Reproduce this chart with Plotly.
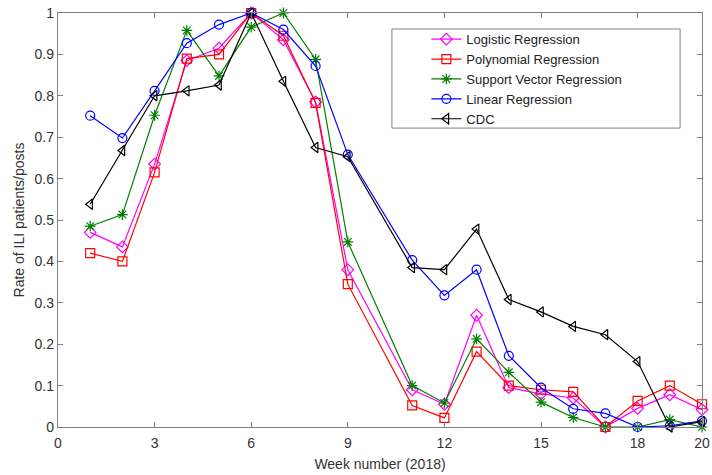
import plotly.graph_objects as go

weeks = [1, 2, 3, 4, 5, 6, 7, 8, 9, 11, 12, 13, 14, 15, 16, 17, 18, 19, 20]

logistic = [0.47, 0.435, 0.635, 0.885, 0.915, 1.0, 0.935, 0.785, 0.38, 0.09, 0.055,
            0.27, 0.095, 0.08, 0.07, 0.0, 0.045, 0.078, 0.042]
polynomial = [0.42, 0.40, 0.615, 0.89, 0.90, 1.0, 0.945, 0.783, 0.345, 0.052, 0.022,
              0.182, 0.10, 0.09, 0.085, 0.0, 0.063, 0.10, 0.055]
svr = [0.485, 0.513, 0.753, 0.958, 0.848, 0.966, 1.0, 0.888, 0.447, 0.10, 0.058,
       0.213, 0.132, 0.06, 0.023, 0.0, 0.0, 0.018, 0.0]
linear = [0.752, 0.698, 0.812, 0.927, 0.972, 1.0, 0.96, 0.872, 0.658, 0.403, 0.318,
          0.38, 0.172, 0.095, 0.044, 0.033, 0.0, 0.003, 0.015]
cdc = [0.538, 0.668, 0.80, 0.812, 0.826, 1.0, 0.835, 0.675, 0.653, 0.385, 0.38,
       0.478, 0.308, 0.278, 0.243, 0.223, 0.158, 0.0, 0.013]

series = [
    ("Logistic Regression", logistic, "#ff00ff", "diamond-open"),
    ("Polynomial Regression", polynomial, "#ff0000", "square-open"),
    ("Support Vector Regression", svr, "#007f00", "asterisk-open"),
    ("Linear Regression", linear, "#0000ff", "circle-open"),
    ("CDC", cdc, "#000000", "triangle-left-open"),
]

x_ticks = [0, 3, 6, 9, 12, 15, 18, 20]
y_ticks = [0, 0.1, 0.2, 0.3, 0.4, 0.5, 0.6, 0.7, 0.8, 0.9, 1]

fig = go.Figure()
for name, vals, color, sym in series:
    fig.add_trace(go.Scatter(
        x=weeks, y=vals, name=name, mode="lines+markers",
        line=dict(color=color, width=1.2),
        marker=dict(symbol=sym, size=9, color=color, line=dict(color=color, width=1.2)),
        cliponaxis=False,
    ))

axis_common = dict(
    showline=True, linecolor="#808080", linewidth=1.3, mirror="ticks",
    ticks="inside", ticklen=5, tickcolor="#808080", tickwidth=1,
    showgrid=False, zeroline=False, automargin=False,
    ticklabeloverflow="allow",
    tickfont=dict(family="Liberation Sans, Arial, sans-serif", size=14, color="#333333"),
)

# legend frame (wider than plotly's own legend box, like the original)
fig.add_shape(type="rect", xref="paper", yref="paper",
              x0=0.5185, x1=0.966, y0=0.722, y1=0.9614,
              line=dict(color="#808080", width=1), fillcolor="white", layer="above")

fig.update_layout(
    width=712, height=475,
    margin=dict(l=58, r=10, t=13, b=48),
    paper_bgcolor="white", plot_bgcolor="white",
    font=dict(family="Liberation Sans, Arial, sans-serif", size=13, color="#333333"),
    xaxis=dict(range=[0, 20], tickvals=x_ticks, ticktext=[str(v) for v in x_ticks],
               ticklabelstandoff=3,
               title=dict(text="Week number (2018)", standoff=9,
                          font=dict(size=14, color="#333333")),
               **axis_common),
    yaxis=dict(range=[0, 1], tickvals=y_ticks,
               ticktext=["0", "0.1", "0.2", "0.3", "0.4", "0.5", "0.6", "0.7", "0.8", "0.9", "1"],
               title=dict(text="Rate of ILI patients/posts", standoff=6,
                          font=dict(size=14, color="#333333")),
               **axis_common),
    legend=dict(x=0.572, y=0.973, xanchor="left", yanchor="top",
                bgcolor="rgba(0,0,0,0)", borderwidth=0,
                font=dict(size=13, color="#222222"), tracegroupgap=0),
    showlegend=True,
)

fig.write_html("out.html", config={"displayModeBar": False},
               post_script="document.body.style.margin='0';")
